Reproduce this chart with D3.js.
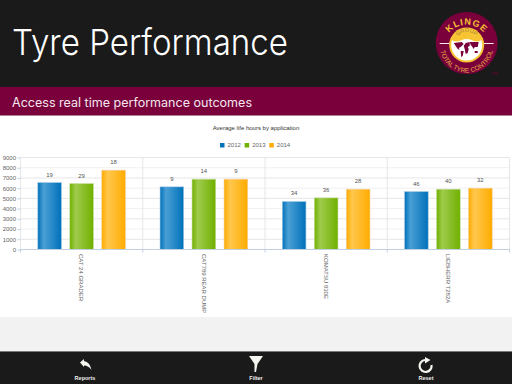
<!DOCTYPE html>
<html>
<head>
<meta charset="utf-8">
<script src="https://cdn.jsdelivr.net/npm/d3@7"></script>
<style>
  html, body { margin: 0; padding: 0; background: #fff; }
  svg { display: block; }
  text { font-family: "Liberation Sans", Arial, sans-serif; }
</style>
</head>
<body>
<div id="chart"></div>
<script>
const categories = ["CAT 24 GRADER", "CAT789 REAR DUMP", "KOMATSU 830E", "LIEBHERR T282A"];
const years = ["2012", "2013", "2014"];
const values2012 = [6550, 6130, 4700, 5670];
const values2013 = [6450, 6880, 5050, 5900];
const values2014 = [7760, 6880, 5900, 6000];
const counts2012 = [19, 9, 34, 46];
const counts2013 = [29, 14, 36, 40];
const counts2014 = [18, 9, 28, 32];
const yTicks = [0, 1000, 2000, 3000, 4000, 5000, 6000, 7000, 8000, 9000];
const barColors = [
  { dark: "#0071ba", light: "#4a9fd5", border: "#a9cde6" },
  { dark: "#70b000", light: "#9fcb4c", border: "#c5dfa0" },
  { dark: "#ffac00", light: "#ffc74d", border: "#f3cfa0" }
];

const width = 512,
  height = 384;

const svg = d3.select("#chart")
  .append("svg")
  .attr("width", width)
  .attr("height", height);

// page bands
svg.append("rect").attr("width", width).attr("height", 87).attr("fill", "#1a1a1a");
svg.append("rect").attr("y", 87).attr("width", width).attr("height", 28).attr("fill", "#7a003c");
svg.append("rect").attr("y", 115).attr("width", width).attr("height", 1).attr("fill", "#b08098");
svg.append("rect").attr("y", 317).attr("width", width).attr("height", 34).attr("fill", "#f2f2f2");
svg.append("rect").attr("y", 351).attr("width", width).attr("height", 33).attr("fill", "#1a1a1a");
svg.append("rect").attr("y", 351).attr("width", width).attr("height", 1).attr("fill", "#777");

svg.append("text")
  .attr("x", 12).attr("y", 55)
  .attr("textLength", 276)
  .attr("lengthAdjust", "spacingAndGlyphs")
  .style("font-family", "Inter, sans-serif")
  .style("font-weight", 300)
  .style("font-size", "36px")
  .attr("fill", "#fff")
  .text("Tyre Performance");

svg.append("text")
  .attr("x", 12).attr("y", 106.5)
  .attr("textLength", 240)
  .attr("lengthAdjust", "spacingAndGlyphs")
  .style("font-family", "Inter, sans-serif")
  .style("font-size", "12.5px")
  .attr("fill", "#f4e6ec")
  .text("Access real time performance outcomes");

// logo
const logo = svg.append("g").attr("transform", "translate(466.7,43)");
logo.append("circle").attr("r", 31).attr("fill", "#7a003c");
logo.append("rect").attr("x", -27).attr("y", 0).attr("width", 54).attr("height", 1).attr("fill", "#f4e6ec");
logo.append("circle").attr("cy", 2).attr("r", 17.5).attr("fill", "#f7c433");
logo.append("circle").attr("cy", 2).attr("r", 15.5).attr("fill", "#fff");
logo.append("path")
  .attr("d", "M-15,-3 A15.5,15.5 0 0 1 15,-3 Q10,0 5,-3 Q0,-5 -5,-3 Q-10,0 -15,-3 Z")
  .attr("fill", "#f7c433");
logo.append("path")
  .attr("d", "M-13,0 L-5,-1 L-3,1 L-6,4 L-8,5 L-7,7 L-9,6 Z M-6,8 L-3,8 L-4,13 L-5.5,14 Z M-1,0 L3,-1 L3,3 L1,4 L2,6 L1,10 L-1,11 L-2,6 L-3,3 Z M3,-1 L12,-1 L11,4 L8,4 L7,6 L5,3 L4,2 Z M8,8 L11,8 L11,10 L8,10 Z")
  .attr("fill", "#7a003c");
logo.append("path").attr("id", "logoTop").attr("d", "M-22,-2 A23,23 0 0 1 22,-2").attr("fill", "none");
logo.append("path").attr("id", "logoBottom").attr("d", "M-26.5,3 A26.5,26.5 0 0 0 26.5,3").attr("fill", "none");
logo.append("path").attr("id", "logoGroup").attr("d", "M-11,-3 A11.5,11.5 0 0 1 11,-3").attr("fill", "none");
logo.append("text").attr("fill", "#f7c433").style("font-size", "9px").style("font-weight", "bold").style("letter-spacing", "1px")
  .append("textPath").attr("href", "#logoTop").attr("startOffset", "50%").attr("text-anchor", "middle").text("KLINGE");
logo.append("text").attr("fill", "#e8b040").style("font-size", "6.5px")
  .append("textPath").attr("href", "#logoBottom").attr("startOffset", "50%").attr("text-anchor", "middle").text("TOTAL TYRE CONTROL");
logo.append("text").attr("fill", "#a8803a").style("font-size", "5.5px")
  .append("textPath").attr("href", "#logoGroup").attr("startOffset", "50%").attr("text-anchor", "middle").text("GROUP");
svg.append("text").attr("x", 491.5).attr("y", 74.5).attr("fill", "#7a003c").style("font-size", "4px").text("TM");

// chart
svg.append("text")
  .attr("x", 256).attr("y", 129.5)
  .attr("text-anchor", "middle")
  .style("font-size", "6px")
  .attr("fill", "#333")
  .text("Average life hours by application");

const x = d3.scaleBand().domain(categories).range([20.5, 509.5]);
const xInner = d3.scaleBand().domain(years).range([0, x.bandwidth()])
  .paddingInner(0.26).paddingOuter(0.54);
const y = d3.scaleLinear().domain([0, 9000]).range([249.5, 157.5]);

const defs = svg.append("defs");
barColors.forEach((c, i) => {
  const grad = defs.append("linearGradient").attr("id", "bar" + i);
  grad.append("stop").attr("offset", "0%").attr("stop-color", c.dark);
  grad.append("stop").attr("offset", "25%").attr("stop-color", c.light);
  grad.append("stop").attr("offset", "100%").attr("stop-color", c.dark);
});

// horizontal grid, every other line a bit fainter like the reference
svg.append("g").selectAll("line")
  .data(yTicks.slice(1))
  .enter()
  .append("line")
  .attr("x1", 20.5).attr("x2", 509.5)
  .attr("y1", d => y(d)).attr("y2", d => y(d))
  .attr("stroke", d => (d / 1000) % 2 === 1 ? "#e6e6e6" : "#f0f0f0");

// vertical group separators
const seps = categories.map(d => x(d)).concat([x.range()[1]]);
svg.append("g").selectAll("line")
  .data(seps)
  .enter()
  .append("line")
  .attr("x1", d => d).attr("x2", d => d)
  .attr("y1", y(9000)).attr("y2", y(0))
  .attr("stroke", "#e6e6e6");

const series = [values2012, values2013, values2014];
const counts = [counts2012, counts2013, counts2014];

years.forEach((yr, i) => {
  const g = svg.append("g");
  g.selectAll("rect")
    .data(categories)
    .enter()
    .append("rect")
    .attr("x", d => x(d) + xInner(yr))
    .attr("y", (d, j) => y(series[i][j]))
    .attr("width", xInner.bandwidth())
    .attr("height", (d, j) => y(0) - y(series[i][j]))
    .attr("fill", "url(#bar" + i + ")")
    .attr("stroke", barColors[i].border)
    .attr("stroke-width", 0.6);
  g.selectAll("text")
    .data(categories)
    .enter()
    .append("text")
    .attr("x", d => x(d) + xInner(yr) + xInner.bandwidth() / 2)
    .attr("y", (d, j) => y(series[i][j]) - 6)
    .attr("text-anchor", "middle")
    .style("font-size", "6px")
    .attr("fill", "#555")
    .text((d, j) => counts[i][j]);
});

// axes
const yAxis = d3.axisLeft(y).tickValues(yTicks).tickSize(3).tickPadding(1.5).tickFormat(d3.format("d"));
svg.append("g")
  .attr("transform", "translate(20.5,0)")
  .call(yAxis)
  .call(g => g.select(".domain").remove())
  .call(g => g.selectAll(".tick line").attr("stroke", "#c0d0e0"))
  .call(g => g.selectAll("text").style("font-size", "6px").style("font-family", "'Liberation Sans', Arial, sans-serif").attr("fill", "#666"));

svg.append("line")
  .attr("x1", 20.5).attr("x2", 509.5)
  .attr("y1", y(0)).attr("y2", y(0))
  .attr("stroke", "#c0d0e0");

svg.append("g").selectAll("line")
  .data(seps)
  .enter()
  .append("line")
  .attr("x1", d => d).attr("x2", d => d)
  .attr("y1", y(0)).attr("y2", y(0) + 3)
  .attr("stroke", "#c0d0e0");

svg.append("g").selectAll("text")
  .data(categories)
  .enter()
  .append("text")
  .attr("transform", d => `translate(${x(d) + x.bandwidth() / 2 - 2.2},254) rotate(90)`)
  .style("font-size", "6px")
  .attr("fill", "#666")
  .text(d => d);

// legend
const legendX = d3.scalePoint().domain(years).range([220, 269.3]);
const legend = svg.append("g").selectAll("g")
  .data(years)
  .enter()
  .append("g")
  .attr("transform", d => `translate(${legendX(d)},0)`);
legend.append("rect")
  .attr("y", 143).attr("width", 4.5).attr("height", 4.5)
  .attr("fill", (d, i) => barColors[i].dark);
legend.append("text")
  .attr("x", 7.5).attr("y", 146.8)
  .style("font-size", "6px")
  .attr("fill", "#666")
  .text(d => d);

// toolbar
const toolbar = svg.append("g");
toolbar.append("path")
  .attr("transform", "translate(85,0)")
  .attr("d", "M-5,362.5 L-1,359 L-1,361 Q5,362 6.5,370 Q3.5,365.5 -1,365.5 L-1,367 Z")
  .attr("fill", "#f5f5ef");
toolbar.append("path")
  .attr("transform", "translate(256,0)")
  .attr("d", "M-7,356 L7,356 L1.5,364 L0,372 L-1.5,372 L-1.5,364 Z")
  .attr("fill", "#f5f5ef");
toolbar.append("path")
  .attr("transform", "translate(426,0)")
  .attr("d", "M-1,360 A6,6 0 1 0 5.5,365")
  .attr("fill", "none").attr("stroke", "#f5f5ef").attr("stroke-width", 2.2);
toolbar.append("path")
  .attr("transform", "translate(426,0)")
  .attr("d", "M-1,357 L4.5,360 L-1,363.5 Z")
  .attr("fill", "#f5f5ef");
toolbar.selectAll("text")
  .data([["Reports", 85], ["Filter", 256], ["Reset", 426]])
  .enter()
  .append("text")
  .attr("x", d => d[1]).attr("y", 380)
  .attr("text-anchor", "middle")
  .style("font-size", "5.5px")
  .style("font-weight", "bold")
  .attr("fill", "#f0f0f0")
  .text(d => d[0]);
</script>
</body>
</html>
